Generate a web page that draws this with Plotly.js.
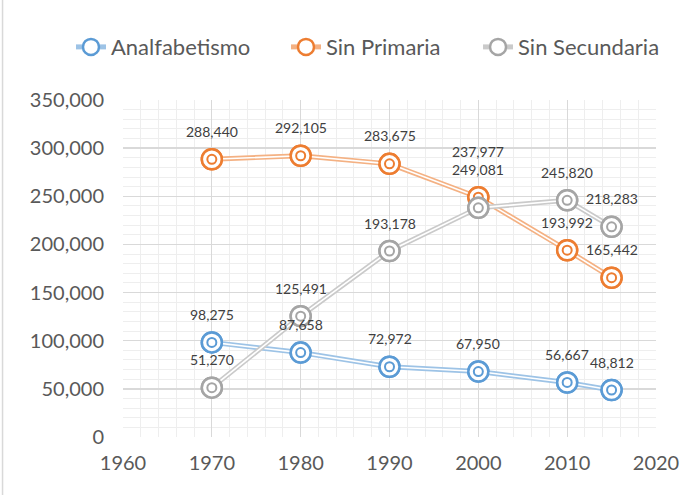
<!DOCTYPE html>
<html>
<head>
<meta charset="utf-8">
<script src="https://cdn.plot.ly/plotly-3.0.1.min.js"></script>
<style>html,body{margin:0;padding:0;background:#fff;}#chart{width:697px;height:495px;}</style>
</head>
<body>
<div id="chart"></div>
<script>
// ---- data ----
const years = [1970, 1980, 1990, 2000, 2010, 2015];
const seriesNames = ["Analfabetismo", "Sin Primaria", "Sin Secundaria"];
const analfabetismo = [98275, 87658, 72972, 67950, 56667, 48812];
const sinPrimaria = [288440, 292105, 283675, 249081, 193992, 165442];
const sinSecundaria = [51270, 125491, 193178, 237977, 245820, 218283];
const yTickVals = [0, 50000, 100000, 150000, 200000, 250000, 300000, 350000];
const xTickVals = [1960, 1970, 1980, 1990, 2000, 2010, 2020];

// ---- styles ----
const values = [analfabetismo, sinPrimaria, sinSecundaria];
const markerColors = ["#5b9bd5", "#ed7d31", "#a5a5a5"];
const lineColors = ["#9dc3e6", "#f4b183", "#cacaca"];
const legendIds = ["legend", "legend2", "legend3"];
const legendX = [-0.0976, 0.3058, 0.6661];
const FONT = "Lato, 'Open Sans', sans-serif";

const traces = [];
values.forEach((vals, i) => {
  traces.push({
    x: years, y: vals, type: "scatter", mode: "lines+markers", name: seriesNames[i],
    line: {color: lineColors[i], width: 5},
    marker: {symbol: "circle", size: 20, color: "#ffffff", line: {color: markerColors[i], width: 2.5}},
    hoverinfo: "skip", legendgroup: seriesNames[i], legend: legendIds[i]
  });
  traces.push({
    x: years, y: vals, type: "scatter", mode: "lines", showlegend: false,
    line: {color: "#ffffff", width: 1.6}, hoverinfo: "skip", legendgroup: seriesNames[i]
  });
  traces.push({
    x: years, y: vals, type: "scatter", mode: "markers", showlegend: false,
    marker: {symbol: "circle", size: 20, color: "#ffffff", line: {color: markerColors[i], width: 2.5}},
    hoverinfo: "skip", legendgroup: seriesNames[i]
  });
  traces.push({
    x: years, y: vals, type: "scatter", mode: "markers", showlegend: false,
    marker: {symbol: "circle-open", size: 9, color: markerColors[i], line: {color: markerColors[i], width: 2}},
    hoverinfo: "skip", legendgroup: seriesNames[i]
  });
});

const annotations = [];
values.forEach((vals, i) => {
  vals.forEach((v, j) => {
    let ys = 28;
    if (i === 2 && years[j] === 2000) ys = 56;
    annotations.push({
      x: years[j], y: v, xref: "x", yref: "y",
      text: v.toLocaleString("en-US"), showarrow: false,
      yshift: ys, font: {family: FONT, size: 14, color: "#404040"}
    });
  });
});

const layout = {
  width: 697, height: 495,
  margin: {l: 123, r: 41, t: 100, b: 58},
  paper_bgcolor: "#ffffff", plot_bgcolor: "#ffffff",
  font: {family: FONT, color: "#595959"},
  showlegend: true,
  xaxis: {
    range: [1960, 2020], tickvals: xTickVals, ticktext: xTickVals.map(String),
    showgrid: true, gridcolor: "#d9d9d9", gridwidth: 1.3,
    minor: {dtick: 2, showgrid: true, gridcolor: "#eeeeee", gridwidth: 1},
    zeroline: false, showline: false, ticks: "", ticklabelstandoff: 12,
    tickfont: {family: FONT, size: 20, color: "#595959"}, fixedrange: true
  },
  yaxis: {
    range: [0, 350000], tickvals: yTickVals, ticktext: yTickVals.map(v => v.toLocaleString("en-US")),
    showgrid: true, gridcolor: "#d9d9d9", gridwidth: 1.3,
    minor: {dtick: 10000, showgrid: true, gridcolor: "#eeeeee", gridwidth: 1},
    zeroline: false, showline: false, ticks: "", ticklabelstandoff: 18,
    tickfont: {family: FONT, size: 20, color: "#595959"}, fixedrange: true
  },
  shapes: [
    {type: "line", xref: "paper", yref: "paper", x0: -0.226, x1: -0.226, y0: -0.2, y1: 1.32,
     line: {color: "#d9d9d9", width: 1.5}}
  ],
  annotations: annotations
};
legendIds.forEach((id, i) => {
  layout[id] = {
    orientation: "h", x: legendX[i], xanchor: "left", y: 1.157, yanchor: "middle",
    font: {family: FONT, size: 22, color: "#595959"}, itemclick: false, bgcolor: "rgba(0,0,0,0)",
    borderwidth: 0
  };
});

Plotly.newPlot("chart", traces, layout, {displayModeBar: false, staticPlot: true});
</script>
</body>
</html>
